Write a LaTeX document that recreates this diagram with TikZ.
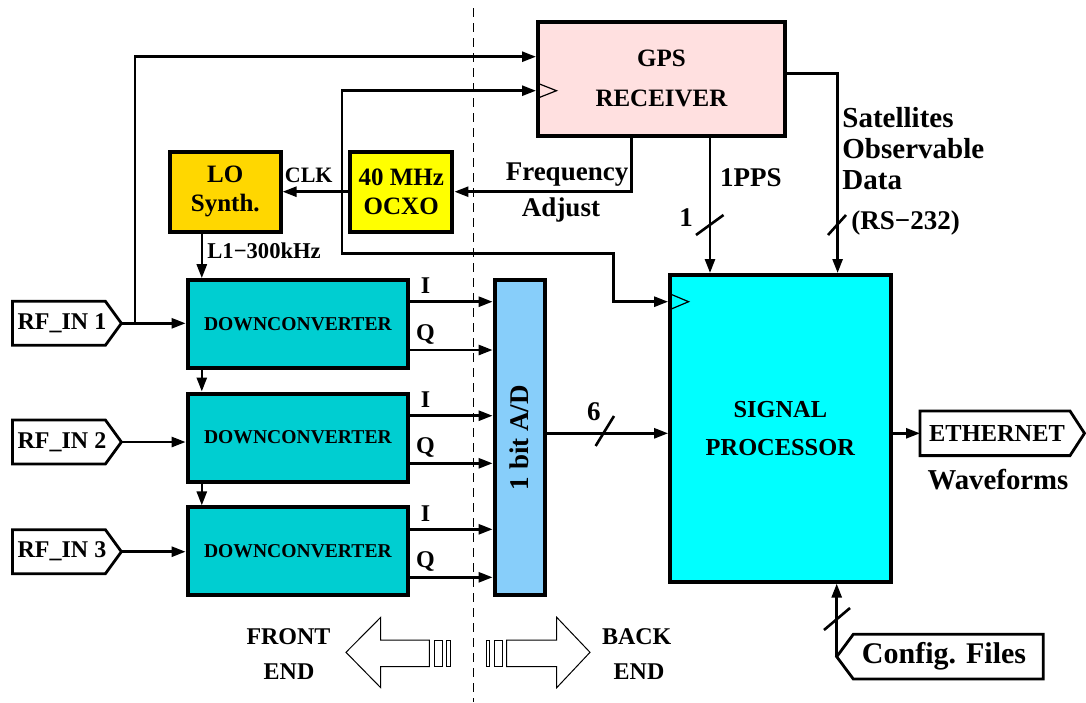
\documentclass[tikz,border=0pt]{standalone}
\usepackage{fontspec}
\setmainfont{Liberation Serif}
\usetikzlibrary{arrows.meta,calc}
\newcommand\bff[2]{\bfseries\fontsize{#1}{#2}\selectfont}
\definecolor{gpspink}{RGB}{255,224,224}
\definecolor{logold}{RGB}{255,215,0}
\definecolor{ocxoy}{RGB}{255,255,0}
\definecolor{dcteal}{RGB}{0,206,209}
\definecolor{adblue}{RGB}{135,206,250}
\definecolor{spcyan}{RGB}{0,255,255}
\begin{document}
\begin{tikzpicture}[x=0.5pt,y=-0.5pt,
  box/.style={draw, line width=2pt, inner sep=0pt, align=center},
  con/.style={line width=1.3pt},
  arr/.style={con, -{Triangle[length=7pt,width=5pt]}},
  tag/.style={draw, line width=1.4pt, fill=white},
  clk/.style={line width=0.6pt},
  thin/.style={line width=0.5pt, fill=white},
  lbl/.style={inner sep=0pt, font=\bff{13.5}{16}},
  dashline/.style={line width=0.7pt, dash pattern=on 4.5pt off 3pt}]
\useasboundingbox (0,0) rectangle (1086,702);

% front/back divider
\coordinate (dtop) at (473.3,8);
\coordinate (dbot) at (473.3,702);
\draw[dashline] (dtop) -- (dbot);

% blocks
\node[box, fill=gpspink, minimum width=123.5pt, minimum height=57.2pt, font=\bff{12.5}{20}] (gps) at (661.5,78.9) {GPS\\RECEIVER};
\node[box, fill=logold, minimum width=55.3pt, minimum height=40pt, font=\bff{12.5}{14.5}] (lo) at (225.3,191.7) {LO\\Synth.};
\node[box, fill=ocxoy, minimum width=51.25pt, minimum height=40pt, font=\bff{12.5}{14.5}] (ocxo) at (401.2,191.7) {40 MHz\\OCXO};
\node[box, fill=dcteal, minimum width=110.3pt, minimum height=44pt, font=\bff{9.8}{12}] (dc1) at (297.9,324.2) {DOWNCONVERTER};
\node[box, fill=dcteal, minimum width=110.3pt, minimum height=44pt, font=\bff{9.8}{12}] (dc2) at (297.9,437.5) {DOWNCONVERTER};
\node[box, fill=dcteal, minimum width=110.3pt, minimum height=44pt, font=\bff{9.8}{12}] (dc3) at (297.9,551.4) {DOWNCONVERTER};
\node[box, fill=adblue, minimum width=25pt, minimum height=157.5pt] (ad) at (519.6,437.5) {};
\node[lbl, rotate=90] (adtxt) at (ad.center) {1 bit A/D};
\node[box, fill=spcyan, minimum width=110.2pt, minimum height=153.3pt, font=\bff{12.2}{19.2}] (sp) at (780.3,428.3) {SIGNAL\\PROCESSOR};

% RF inputs
\foreach \i/\y in {1/323.3, 2/442, 3/551.7} {
  \draw[tag] (12.5,\y-22) -- (105.4,\y-22) -- (121.4,\y) -- (105.4,\y+22) -- (12.5,\y+22) -- cycle;
  \node[inner sep=0pt, font=\bff{12}{14}] (rf\i) at (62,\y) {RF\_IN \i};
  \coordinate (rf\i-tip) at (121.4,\y);
  \draw[arr] (rf\i-tip) -- (dc\i.west |- rf\i-tip);
}

% RF_IN 1 to GPS
\coordinate (j1) at (135,323.3);
\coordinate (jt) at (135,56.7);
\draw[arr] (j1) |- (gps.west |- jt);

% LO chain
\coordinate (colx) at (201.8,0);
\draw[arr] (lo.south -| colx) -- (dc1.north -| colx);
\draw[arr] (dc1.south -| colx) -- (dc2.north -| colx);
\draw[arr] (dc2.south -| colx) -- (dc3.north -| colx);
\node[inner sep=0pt, anchor=west, font=\bff{11.3}{13}] (l1lbl) at (207,250.7) {L1−300kHz};

% OCXO to LO
\draw[arr] (ocxo.west) -- (lo.east);
\node[inner sep=0pt, font=\bff{11}{13}] (clklbl) at (308.7,175.7) {CLK};

% clock net
\coordinate (ck0) at (342,191.7);
\coordinate (ck1) at (342,90.7);
\coordinate (ck2) at (342,253.3);
\coordinate (ck3) at (613.4,253.3);
\coordinate (ck4) at (613.4,301.7);
\draw[arr] (ck0) -- (ck1) -- (gps.west |- ck1);
\draw[arr] (ck0) -- (ck2) -- (ck3) -- (ck4) -- (sp.west |- ck4);
\draw[clk] ($(gps.west |- ck1)+(1.5,-7.5)$) -- ++(19,7.5) -- ++(-19,7.5);
\draw[clk] ($(sp.west |- ck4)+(1.5,-8)$) -- ++(19,8) -- ++(-19,8);

% frequency adjust
\coordinate (fx) at (631.5,0);
\draw[arr] (gps.south -| fx) |- (ocxo.east);
\node[lbl] (freq) at (567,175) {Frequency};
\node[lbl] (adj) at (561,210) {Adjust};

% 1PPS
\coordinate (ppsx) at (710,0);
\draw[arr] (gps.south -| ppsx) -- (sp.north -| ppsx);
\draw[con] (696,235) -- (723.5,215);
\node[lbl, anchor=west] (pps) at (719.7,178) {1PPS};
\node[lbl] (one) at (686,218) {1};

% satellite data
\coordinate (saty) at (0,73.3);
\coordinate (satx) at (837.6,0);
\draw[arr] (gps.east |- saty) -| (sp.north -| satx);
\draw[con] (828,235) -- (846,215);
\node[inner sep=0pt, anchor=west, align=left, font=\bff{14.5}{15.6}] (sat) at (842,148.3) {Satellites\\Observable\\Data};
\node[lbl, anchor=west] (rs) at (851,223) {(RS−232)};

% I/Q outputs
\foreach \d/\yi/\yq in {1/301.7/350, 2/415.7/463.3, 3/529.3/577.3} {
  \coordinate (i\d) at (0,\yi);
  \coordinate (q\d) at (0,\yq);
  \draw[arr] (dc\d.east |- i\d) -- (ad.west |- i\d);
  \draw[arr] (dc\d.east |- q\d) -- (ad.west |- q\d);
  \node[inner sep=0pt, font=\bff{12}{14}] (il\d) at (425.5,\yi-16) {I};
  \node[inner sep=0pt, font=\bff{12}{14}] (ql\d) at (425.5,\yq-16) {Q};
}

% A/D to SP to Ethernet
\coordinate (ly) at (0,433.3);
\draw[arr] (ad.east |- ly) -- (sp.west |- ly);
\draw[con] (595.6,446) -- (614,416);
\node[lbl] (six) at (593.8,411.7) {6};
\draw[tag] (920,411) -- (1070,411) -- (1084.5,433.3) -- (1070,455.6) -- (920,455.6) -- cycle;
\node[inner sep=0pt, font=\bff{12.2}{14}] (eth) at (997,433.3) {ETHERNET};
\coordinate (ethin) at (920,433.3);
\draw[arr] (sp.east |- ly) -- (ethin);
\node[inner sep=0pt, font=\bff{14.4}{16}] (wf) at (998,480) {Waveforms};

% config files
\draw[tag] (836.7,656.7) -- (853.3,634.3) -- (1043.3,634.3) -- (1043.3,679) -- (853.3,679) -- cycle;
\node[inner sep=0pt, font=\bff{15}{17}] (cfg) at (944,656.7) {Config. Files};
\coordinate (cfgtip) at (836.7,656.7);
\draw[arr] (cfgtip) -- (sp.south -| cfgtip);
\draw[con] (824,630) -- (850,608);

% front / back end arrows
\draw[thin] (346,652.3) -- (380.7,617.3) -- (380.7,640) -- (429.3,640) -- (429.3,666.7) -- (380.7,666.7) -- (380.7,687.7) -- cycle;
\draw[thin] (434,640) rectangle (442.3,666.7);
\draw[thin] (446.7,640) rectangle (450,666.7);
\draw[thin] (486,640) rectangle (489.3,666.7);
\draw[thin] (494.3,640) rectangle (502.7,666.7);
\draw[thin] (506.7,640) -- (556.7,640) -- (556.7,617.3) -- (590,652.3) -- (556.7,687.7) -- (556.7,666.7) -- (506.7,666.7) -- cycle;
\node[inner sep=0pt, font=\bff{12}{14}] (front) at (288.5,636.7) {FRONT};
\node[inner sep=0pt, font=\bff{12}{14}] (fend) at (289,671.7) {END};
\node[inner sep=0pt, font=\bff{12}{14}] (back) at (636.7,636.7) {BACK};
\node[inner sep=0pt, font=\bff{12}{14}] (bend) at (639,671.7) {END};
\end{tikzpicture}
\end{document}
